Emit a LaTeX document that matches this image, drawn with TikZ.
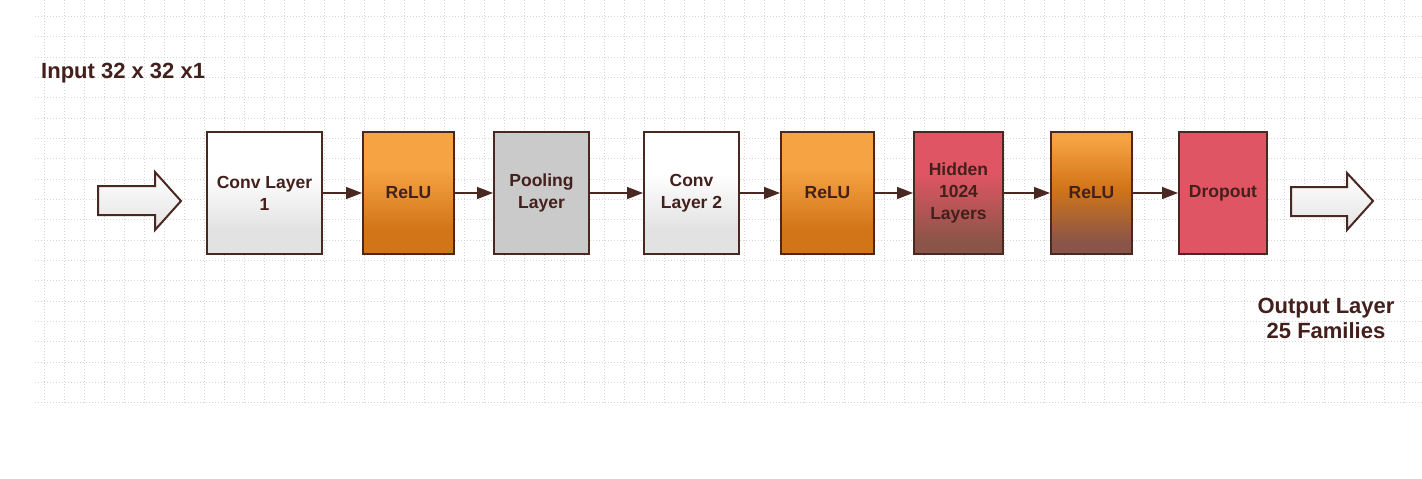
\documentclass[tikz,border=0pt]{standalone}
\usepackage{fontspec}
\setmainfont{Liberation Sans}
\usetikzlibrary{arrows.meta}
\definecolor{ink}{HTML}{43201C}
\definecolor{edgec}{HTML}{4A2822}
\definecolor{gridc}{HTML}{D6D6D6}
\definecolor{orgTop}{HTML}{F5A343}
\definecolor{orgBot}{HTML}{D27518}
\definecolor{redc}{HTML}{E05563}
\definecolor{brownc}{HTML}{8A5548}
\definecolor{poolc}{HTML}{CACACA}
\definecolor{convBot}{HTML}{E2E2E2}
\pgfdeclareverticalshading{convsh}{100bp}{color(0bp)=(convBot); color(35bp)=(convBot); color(58bp)=(white); color(100bp)=(white)}
\pgfdeclareverticalshading{relush}{100bp}{color(0bp)=(orgBot); color(35bp)=(orgBot); color(60bp)=(orgTop); color(100bp)=(orgTop)}
\pgfdeclareverticalshading{hidsh}{100bp}{color(0bp)=(brownc); color(30bp)=(brownc); color(58bp)=(redc); color(100bp)=(redc)}
\pgfdeclareverticalshading{relubsh}{100bp}{color(0bp)=(brownc); color(30bp)=(brownc); color(52bp)=(orgBot); color(72bp)=(orgTop); color(100bp)=(orgTop)}
\begin{document}
\begin{tikzpicture}[x=1pt,y=-1pt,
  layer/.style={draw=edgec, line width=2pt, minimum height=122pt, inner sep=0pt,
    align=center, text=ink, font=\bfseries\fontsize{17.5}{22}\selectfont},
  conn/.style={draw=edgec, line width=1.5pt, -{Triangle[length=16pt,width=12pt]}},
  blockarrow/.style={draw=edgec, line width=2pt, line join=miter, top color=white, bottom color=gray!22},
  bigtext/.style={text=ink, inner sep=0pt, font=\bfseries\fontsize{22}{25}\selectfont},
  gridline/.style={draw=gridc, line width=1pt, dash pattern=on 1pt off 2pt}]
\useasboundingbox (0,0) rectangle (1422,479);
\fill[white] (0,0) rectangle (1422,479);
% grid
\foreach \k in {0,...,68} { \draw[gridline] (44+20*\k,0) -- (44+20*\k,403); }
\foreach \k in {0,...,19} { \draw[gridline] (35,16.5+20.33*\k) -- (1422,16.5+20.33*\k); }
% texts
\node[bigtext, anchor=base west] (inp) at (41,78) {Input 32 x 32 x1};
\node[bigtext, align=center] (outl) at (1326,318) {Output Layer\\25 Families};
% block arrows
\draw[blockarrow] (98,186) -- (155,186) -- (155,172) -- (181,201) -- (155,230) -- (155,215) -- (98,215) -- cycle;
\draw[blockarrow] (1291,187) -- (1347,187) -- (1347,173) -- (1373,201) -- (1347,230) -- (1347,216) -- (1291,216) -- cycle;
% layers
\node[layer, shade, shading=convsh, minimum width=115pt] (c1) at (264.5,193) {Conv Layer\\1};
\node[layer, shade, shading=relush, minimum width=91pt] (r1) at (408.5,193) {ReLU};
\node[layer, fill=poolc, minimum width=95pt] (pl) at (541.5,193) {Pooling\\Layer};
\node[layer, shade, shading=convsh, minimum width=95pt] (c2) at (691.5,193) {Conv\\Layer 2};
\node[layer, shade, shading=relush, minimum width=93pt] (r2) at (827.5,193) {ReLU};
\node[layer, shade, shading=hidsh, minimum width=89pt] (hd) at (958.5,193) {Hidden\\1024\\Layers};
\node[layer, shade, shading=relubsh, minimum width=81pt] (r3) at (1091.5,193) {ReLU};
\node[layer, fill=redc, minimum width=88pt] (dr) at (1223,193) {Dropout};
% connectors
\draw[conn] (c1) -- (r1);
\draw[conn] (r1) -- (pl);
\draw[conn] (pl) -- (c2);
\draw[conn] (c2) -- (r2);
\draw[conn] (r2) -- (hd);
\draw[conn] (hd) -- (r3);
\draw[conn] (r3) -- (dr);
\end{tikzpicture}
\end{document}
